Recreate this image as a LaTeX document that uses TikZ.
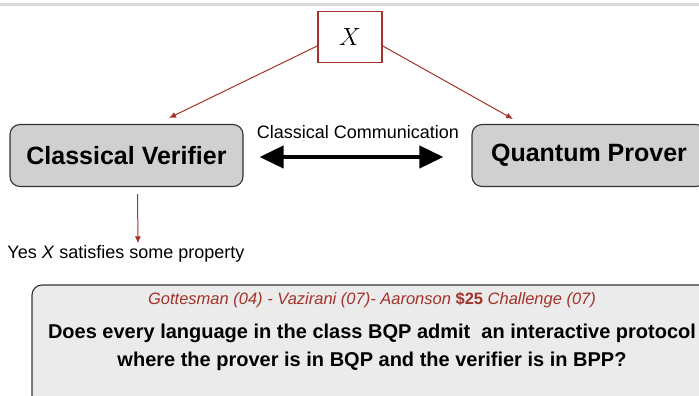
\documentclass[tikz,border=0pt]{standalone}
\usepackage{fontspec}
\setmainfont{Liberation Sans}
\usetikzlibrary{arrows.meta}
\definecolor{darkred}{HTML}{A3322A}
\definecolor{boxgray}{HTML}{D0D0D0}
\definecolor{notegray}{HTML}{EBEBEB}
\tikzset{
  party/.style={draw=black!80, fill=boxgray, rounded corners=10pt, line width=1.1pt,
    minimum height=62pt, font=\fontsize{25}{30}\selectfont\bfseries},
  feed/.style={draw=darkred, line width=1pt, -{Latex[length=7pt,width=6pt]}},
  small/.style={font=\fontsize{18}{22}\selectfont, inner sep=2pt},
}
\begin{document}
\begin{tikzpicture}[x=1pt,y=-1pt]
      \useasboundingbox (0,0) rectangle (699,396);
      \draw[black!15, line width=3pt] (0,5) -- (699,5);
      \draw
        (350,37) node[draw=darkred, line width=1.6pt, fill=white, minimum width=64pt,
          minimum height=51pt, font=\fontsize{32}{36}\selectfont] (input){$X$}
        (126.5,155.5) node[party, minimum width=233pt] (verifier){Classical Verifier}
        (589,155.5) node[party, minimum width=234pt] (prover){Quantum Prover}
        (358,132) node[small] (commlabel){Classical Communication}
        (126,254) node[small] (yes){Yes \textit{X} satisfies some property}
        (372,353) node[draw=black!80, fill=notegray, rounded corners=10pt, line width=1.1pt,
          minimum width=680pt, minimum height=136pt] (note){}
        (372,300) node[font=\fontsize{16.5}{20}\selectfont\itshape, text=darkred]
          (refs){Gottesman (04) - Vazirani (07)- Aaronson \textbf{\upshape\$25} Challenge (07)}
        (372,347) node[font=\fontsize{20}{28}\selectfont\bfseries, align=center]
          (question){Does every language in the class BQP admit\ \ an interactive protocol\\
          where the prover is in BQP and the verifier is in BPP?};
      \coordinate (vtop) at (169,118);
      \coordinate (ptop) at (513,119);
      \begin{scope}[feed]
        \draw ([yshift=-9pt]input.west) to (vtop);
        \draw ([yshift=-9pt]input.east) to (ptop);
        \draw ([xshift=11pt,yshift=-7pt]verifier.south) to ([xshift=12pt]yes.north);
      \end{scope}
      \draw[line width=4pt, {Triangle[length=24pt,width=22pt]}-{Triangle[length=24pt,width=22pt]},
        shorten <=16pt, shorten >=28pt] ([yshift=-1.5pt]verifier.east) to ([yshift=-1.5pt]prover.west);
    \end{tikzpicture}
\end{document}
